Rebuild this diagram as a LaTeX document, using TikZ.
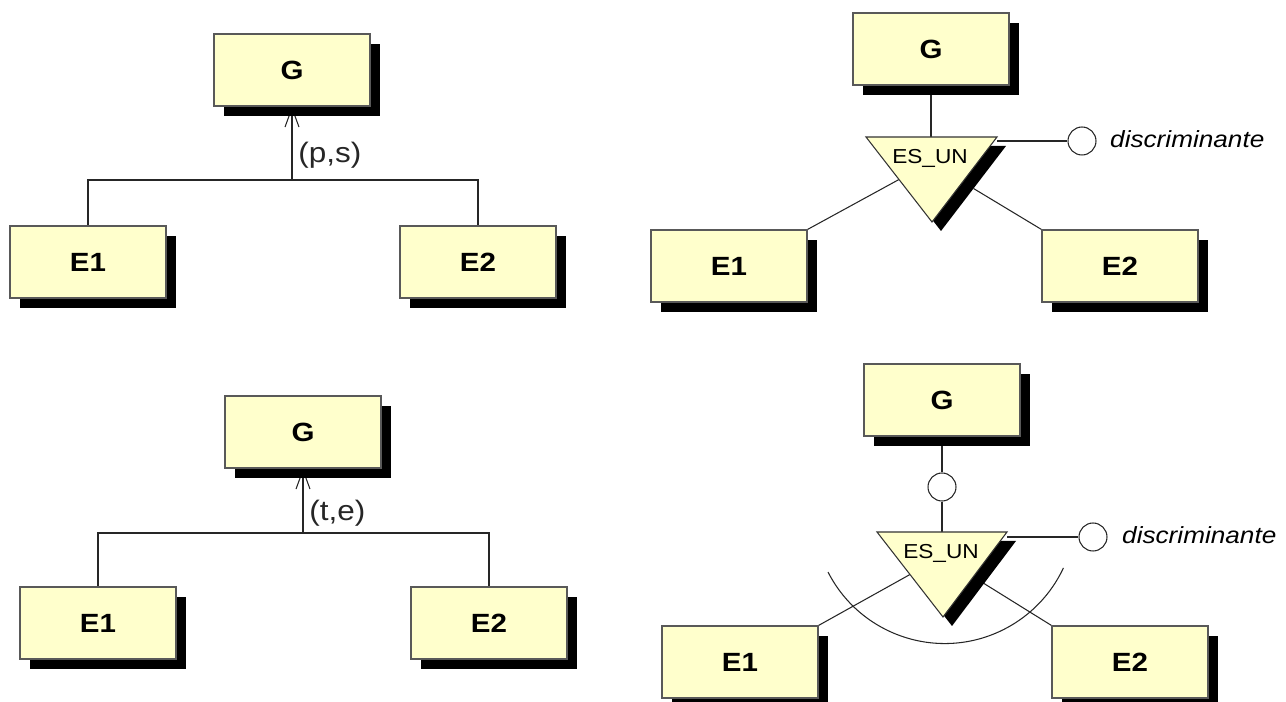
\documentclass[tikz,border=0pt]{standalone}
\usepackage{fontspec}
\setmainfont{Liberation Sans}
\newfontfamily\widefont[FakeStretch=1.12]{Liberation Sans}
\usetikzlibrary{calc, arrows.meta, shadows, backgrounds}
\definecolor{entfill}{HTML}{FFFFCC}
\def\px{0.02}
\tikzset{entity/.style={draw=gray!70!black, line width=.6pt, fill=entfill,
    minimum width=3.12cm, minimum height=1.44cm, font=\widefont\fontsize{15}{17}\selectfont\bfseries,
    drop shadow={shadow xshift=.2cm, shadow yshift=-.2cm, fill=black, opacity=1}}}
\tikzset{isa/.style={draw=black!80, line width=.6pt, fill=entfill,
    drop shadow={shadow xshift=.18cm, shadow yshift=-.18cm, fill=black, opacity=1}}}
\tikzset{link/.style={line width=.6pt, black!85}}
\tikzset{gen/.style={link, -{Straight Barb[length=.38cm, width=.28cm]}}}
\tikzset{disc/.style={circle, draw=black!85, line width=.6pt, fill=white, minimum size=.56cm, inner sep=0pt}}
\tikzset{lbl/.style={font=\widefont\fontsize{16}{18}\selectfont}}
\tikzset{isalbl/.style={font=\widefont\fontsize{11.5}{13}\selectfont}}
\tikzset{disclbl/.style={anchor=base west, font=\widefont\fontsize{13.3}{15}\selectfont\itshape}}

\begin{document}
\begin{tikzpicture}[x=\px cm, y=-\px cm]
      \useasboundingbox (0,0) rectangle (1286,702);
      % Jerarquia (p,s)
      \node[entity] (g1) at (292,70) {G};
      \node[entity] (e11) at (88,262) {E1};
      \node[entity] (e12) at (478,262) {E2};
      \coordinate (h1) at (292,180);
      % Jerarquia (t,e)
      \node[entity] (g2) at (303,432) {G};
      \node[entity] (e21) at (98,623) {E1};
      \node[entity] (e22) at (489,623) {E2};
      \coordinate (h2) at (303,533);
      % ES_UN
      \node[entity] (g3) at (931,49) {G};
      \node[entity] (e31) at (729,266) {E1};
      \node[entity] (e32) at (1120,266) {E2};
      \coordinate (t3a) at (866,137);
      \coordinate (t3b) at (997,137);
      \coordinate (t3c) at (932,222);
      \filldraw[isa] (t3a) -- (t3b) -- (t3c) -- cycle;
      \node[isalbl] (u3) at (930,158) {ES\_UN};
      \node[disc] (c3) at (1082,141) {};
      \node[disclbl] (d3) at (1104,148) {discriminante};
      % ES_UN con circulo y arco
      \node[entity] (g4) at (942,400) {G};
      \node[entity] (e41) at (740,662) {E1};
      \node[entity] (e42) at (1130,662) {E2};
      \coordinate (t4a) at (877,532);
      \coordinate (t4b) at (1007,532);
      \coordinate (t4c) at (943,617);
      \filldraw[isa] (t4a) -- (t4b) -- (t4c) -- cycle;
      \node[isalbl] (u4) at (941,553) {ES\_UN};
      \node[disc] (s4) at (942,487) {};
      \node[disc] (c4) at (1093,537) {};
      \node[disclbl] (d4) at (1116,544) {discriminante};
      \draw[link] (828,572) arc[start angle=153, end angle=25, radius=131];

      \begin{pgfonlayer}{background}
        %Conectores
        \draw[gen] (h1) -- (g1.south) node[lbl, pos=.34, right] {(p,s)};
        \draw[link] (e11.north) |- (h1) -| (e12.north);
        \draw[gen] (h2) -- (g2.south) node[lbl, pos=.31, right] {(t,e)};
        \draw[link] (e21.north) |- (h2) -| (e22.north);
        \draw[link] (g3.south) -- (g3.south |- t3a);
        \draw[link] ($(t3b)+(0,4)$) -- (c3);
        \draw[link] ($(t3a)!.5!(t3c)$) -- (e31.north east);
        \draw[link] ($(t3b)!.5!(t3c)+(9,9)$) -- (e32.north west);
        \draw[link] (g4.south) -- (s4) -- (s4 |- t4a);
        \draw[link] ($(t4b)+(0,5)$) -- (c4);
        \draw[link] ($(t4a)!.5!(t4c)$) -- (e41.north east);
        \draw[link] ($(t4b)!.5!(t4c)+(9,9)$) -- (e42.north west);
      \end{pgfonlayer}
\end{tikzpicture}
\end{document}
